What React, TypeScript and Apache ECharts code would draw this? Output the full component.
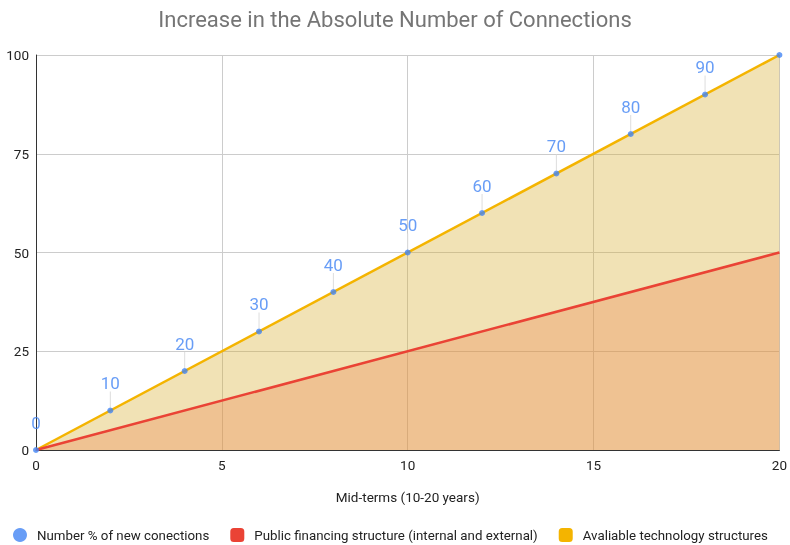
import React, { useEffect, useRef } from "react";
import * as echarts from "echarts";

// Mid-term horizon (years)
const years = [0, 2, 4, 6, 8, 10, 12, 14, 16, 18, 20];
// Number % of new connections at each point
const newConnections = [0, 10, 20, 30, 40, 50, 60, 70, 80, 90, 100];
// Trend end-points of the two structure series
const financingX = [0, 20];
const financingY = [0, 50];
const technologyX = [0, 20];
const technologyY = [0, 100];

const yTicks = { min: 0, max: 100, interval: 25 };
const xTicks = { min: 0, max: 20, interval: 5 };

const seriesNames = [
  "Number % of new conections",
  "Public financing structure (internal and external)",
  "Avaliable technology structures",
];

const FONT = "Roboto, 'Noto Sans', sans-serif";

export default function App() {
  const ref = useRef<HTMLDivElement>(null);

  useEffect(() => {
    if (!ref.current) return;
    const chart = echarts.init(ref.current, undefined, { renderer: "svg" });

    const pointData = years.map((x, i) => ({
      value: [x, newConnections[i]],
      label: { show: i < years.length - 1 },
      labelLine: { show: i < years.length - 1 && i > 0 },
    }));

    chart.setOption({
      animation: false,
      textStyle: { fontFamily: FONT },
      title: {
        text: "Increase in the Absolute Number of Connections",
        left: "center",
        top: 3,
        textStyle: { fontFamily: FONT, fontSize: 22, fontWeight: "normal", color: "#757575" },
      },
      grid: { left: 36, right: 8, top: 55, bottom: 95 },
      legend: {
        data: [
          { name: seriesNames[0], icon: "circle" },
          { name: seriesNames[1], icon: "roundRect" },
          { name: seriesNames[2], icon: "roundRect" },
        ],
        bottom: 3,
        left: 13,
        padding: 0,
        itemWidth: 14,
        itemHeight: 14,
        itemGap: 21,
        textStyle: { fontFamily: FONT, fontSize: 13.3, color: "#222", padding: [0, 0, 0, 5] },
      },
      xAxis: {
        type: "value",
        min: xTicks.min,
        max: xTicks.max,
        interval: xTicks.interval,
        name: "Mid-terms (10-20 years)",
        nameLocation: "middle",
        nameGap: 40,
        nameTextStyle: { fontFamily: FONT, fontSize: 13.5, color: "#222" },
        axisLine: { show: true, lineStyle: { color: "#333", width: 1 } },
        axisTick: { show: false },
        axisLabel: { fontFamily: FONT, fontSize: 13.5, color: "#222", margin: 8 },
        splitLine: { show: true, lineStyle: { color: "#ccc" } },
      },
      yAxis: {
        type: "value",
        min: yTicks.min,
        max: yTicks.max,
        interval: yTicks.interval,
        axisLine: { show: true, lineStyle: { color: "#333", width: 1 } },
        axisTick: { show: false },
        axisLabel: { fontFamily: FONT, fontSize: 13.5, color: "#222", margin: 7 },
        splitLine: { show: true, lineStyle: { color: "#ccc" } },
      },
      series: [
        {
          name: seriesNames[2],
          type: "line",
          data: technologyX.map((x, i) => [x, technologyY[i]]),
          showSymbol: false,
          itemStyle: { color: "#f4b400" },
          lineStyle: { color: "#f4b400", width: 2.5 },
          areaStyle: { color: "#d6ac2c", opacity: 0.35 },
          z: 2,
        },
        {
          name: seriesNames[1],
          type: "line",
          data: financingX.map((x, i) => [x, financingY[i]]),
          showSymbol: false,
          itemStyle: { color: "#ea4335" },
          lineStyle: { color: "#ea4335", width: 2.5 },
          areaStyle: { color: "#e98048", opacity: 0.33 },
          z: 3,
        },
        {
          name: seriesNames[0],
          type: "scatter",
          data: pointData,
          symbolSize: 6,
          itemStyle: { color: "#4285f4" },
          label: {
            show: true,
            position: "top",
            distance: 4,
            fontFamily: FONT,
            fontSize: 17,
            color: "#4285f4",
            formatter: (p: any) => String(p.value[1]),
          },
          labelLayout: { dy: -12 },
          labelLine: { show: true, lineStyle: { color: "#ddd", width: 1 } },
          z: 5,
        },
      ],
    });

    return () => chart.dispose();
  }, []);

  return (
    <div
      ref={ref}
      style={{ position: "fixed", left: 0, top: 0, width: 790, height: 545 }}
    />
  );
}
